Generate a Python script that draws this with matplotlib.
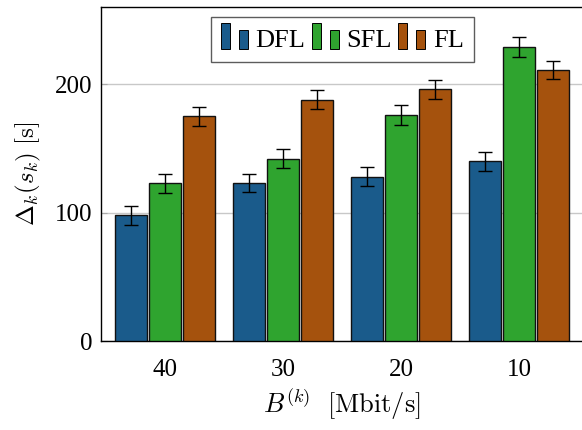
import matplotlib
matplotlib.use("Agg")
import matplotlib.pyplot as plt
import matplotlib.patches as mpatches
from matplotlib.legend_handler import HandlerBase
import numpy as np

plt.rcParams['font.family'] = 'serif'
plt.rcParams['font.serif'] = ['Liberation Serif']
plt.rcParams['mathtext.fontset'] = 'cm'

# data
bandwidth = ['40', '30', '20', '10']
series = ['DFL', 'SFL', 'FL']
dfl = [98, 123, 128, 140]
sfl = [123, 142, 176, 229]
fl = [175, 188, 196, 211]
dfl_err = [7.5, 7, 7.5, 7.5]
sfl_err = [7.5, 7.5, 7.5, 7.5]
fl_err = [7.5, 7.5, 7.5, 7]

colors = ['#1a5b8b', '#2fa42f', '#a5520d']


class TwoBarHandler(HandlerBase):
    # pgfplots style ybar legend: two little bars
    def create_artists(self, legend, orig_handle, xdescent, ydescent,
                       width, height, fontsize, trans):
        fc = orig_handle.get_facecolor()
        bw = width * 0.30
        base = -ydescent - height * 0.05
        r1 = mpatches.Rectangle((-xdescent, base), bw, height * 1.3,
                                facecolor=fc, edgecolor='black', lw=0.7, transform=trans)
        r2 = mpatches.Rectangle((-xdescent + width * 0.62, base), bw, height * 0.95,
                                facecolor=fc, edgecolor='black', lw=0.7, transform=trans)
        return [r1, r2]


fig = plt.figure(figsize=(5.82, 4.30), dpi=100)
ax = fig.add_axes([101 / 582, 88.7 / 430, 481 / 582, (423 - 88.7) / 430])

x = np.arange(len(bandwidth))
step = 0.288
width = 0.274
handles = []
for i, (vals, errs) in enumerate([(dfl, dfl_err), (sfl, sfl_err), (fl, fl_err)]):
    b = ax.bar(x + (i - 1) * step, vals, width, yerr=errs, color=colors[i],
               edgecolor='#111111', linewidth=1.0, capsize=5,
               error_kw=dict(elinewidth=1.0, capthick=1.0, ecolor='black'),
               zorder=3, label=series[i])
    handles.append(b.patches[0])

ax.set_xlim(-0.542, 3.534)
ax.set_ylim(0, 260)
ax.set_xticks(x)
ax.set_xticklabels(bandwidth)
ax.set_yticks([0, 100, 200])
ax.tick_params(axis='x', length=0, pad=13, labelsize=18)
ax.tick_params(axis='y', direction='in', length=4, color='#aaaaaa', labelsize=18, pad=6)
ax.yaxis.grid(True, color='#c8c8c8', linewidth=1.0, zorder=0)
ax.set_axisbelow(True)
ax.spines['right'].set_visible(False)
for s in ['left', 'top', 'bottom']:
    ax.spines[s].set_linewidth(1.0)

ax.set_xlabel(r'$B^{(k)}\ \ [\mathrm{Mbit/s}]$', fontsize=19, labelpad=4)
ax.set_ylabel(r'$\Delta_k(s_k)\ [\mathrm{s}]$', fontsize=18, labelpad=9)

leg = ax.legend(handles, series, handler_map={mpatches.Rectangle: TwoBarHandler()},
                loc='upper center', bbox_to_anchor=(0.502, 0.97), ncol=3,
                fontsize=19, frameon=True, fancybox=False, edgecolor='#333333',
                handlelength=1.1, handletextpad=0.2, columnspacing=0.25,
                borderpad=0.4, borderaxespad=0, handleheight=0.8)
leg.get_frame().set_linewidth(1.0)

fig.savefig('out.png', dpi=100)
